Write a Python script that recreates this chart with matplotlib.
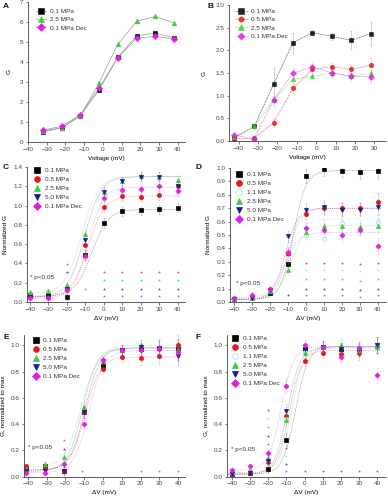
import matplotlib.pyplot as plt
import numpy as np

plt.rcParams['font.family'] = ['Liberation Sans', 'DejaVu Sans']
plt.rcParams['font.size'] = 4.6
plt.rcParams['axes.linewidth'] = 0.6
plt.rcParams['axes.edgecolor'] = '#444444'
plt.rcParams['xtick.color'] = '#444444'
plt.rcParams['ytick.color'] = '#444444'
plt.rcParams['text.color'] = '#333333'

BLACK = '#000000'
RED = '#e8161c'
CYAN = '#8fdede'
GREEN = '#3ccf3c'
BLUE = '#1c1c8c'
MAG = '#e020e0'
COLS = {'k': BLACK, 'r': RED, 'c': CYAN, 'g': GREEN, 'b': BLUE, 'm': MAG}
MARKS = {'k': 's', 'r': 'o', 'c': 'o', 'g': '^', 'b': 'v', 'm': 'D'}
NAMES = {'k': '0.1 MPa', 'r': '0.5 MPa', 'c': '1.1 MPa', 'g': '2.5 MPa',
         'b': '5.0 MPa', 'm': '0.1 MPa Dec'}

# ---- panel A: conductance vs voltage
a_v = [-32, -22, -12, -2, 8, 18, 28, 38]
a_k = [0.50, 0.70, 1.32, 2.60, 4.24, 5.31, 5.44, 5.21]
a_g = [0.55, 0.72, 1.30, 2.96, 4.89, 6.03, 6.28, 5.95]
a_m = [0.59, 0.79, 1.37, 2.70, 4.22, 5.18, 5.29, 5.14]

# ---- panel B
b_v = [-42.5, -32, -22, -12, -2, 8, 18, 28]
b_k = [0.06, 0.32, 1.25, 2.17, 2.39, 2.31, 2.22, 2.37]
b_r = [0.05, 0.06, 0.40, 1.16, 1.58, 1.64, 1.58, 1.67]
b_g = [0.08, 0.32, 0.90, 1.36, 1.43, 1.50, 1.43, 1.49]
b_m = [0.13, 0.05, 0.91, 1.49, 1.64, 1.50, 1.43, 1.42]
b_k_err = [0.05, 0.05, 0.35, 0.22, 0.06, 0.08, 0.20, 0.25]
b_r_err = [0.03, 0.03, 0.10, 0.10, 0.08, 0.08, 0.08, 0.15]
b_g_err = [0.03, 0.04, 0.10, 0.08, 0.06, 0.06, 0.06, 0.08]
b_m_err = [0.04, 0.03, 0.15, 0.10, 0.08, 0.08, 0.08, 0.15]

# ---- panel C: normalized G
c_v = [-40, -30, -20, -10, 0, 10, 20, 30, 40]
c_k = [0.07, 0.07, 0.05, 0.49, 0.82, 0.94, 0.95, 0.96, 0.98]
c_r = [0.06, 0.05, 0.13, 0.59, 0.99, 1.10, 1.09, 1.11, 1.20]
c_g = [0.10, 0.11, 0.18, 0.71, 1.14, 1.25, 1.31, 1.30, 1.27]
c_b = [0.05, 0.05, 0.13, 0.64, 1.14, 1.25, 1.30, 1.30, 1.20]
c_m = [0.04, 0.04, 0.12, 0.48, 1.08, 1.16, 1.17, 1.20, 1.15]
c_err = [0.02, 0.02, 0.03, 0.05, 0.05, 0.05, 0.05, 0.05, 0.05]
c_fit = {'k': [0.06, 0.96, -6.5, 4.5], 'r': [0.05, 1.10, -8.5, 4.5],
         'g': [0.09, 1.30, -12.0, 4.5], 'b': [0.05, 1.30, -10.5, 4.5],
         'm': [0.04, 1.19, -8.5, 4.0]}
c_star_x = [0, 10, 20, 30, 40, 0, 10, 20, 30, 40, 0, 10, 20, 30, 40,
            0, 10, 20, 30, 40, -20, -20, -10]
c_star_y = [0.31, 0.31, 0.31, 0.31, 0.31, 0.23, 0.23, 0.23, 0.23, 0.23,
            0.14, 0.14, 0.14, 0.14, 0.14, 0.06, 0.06, 0.06, 0.06, 0.06,
            0.39, 0.31, 0.14]
c_star_c = ['r', 'r', 'r', 'r', 'r', 'g', 'g', 'g', 'g', 'g',
            'b', 'b', 'b', 'b', 'b', 'm', 'm', 'm', 'm', 'm', 'm', 'b', 'g']

# ---- panel D
d_v = [-40, -30, -20, -10, 0, 10, 20, 30, 40]
d_k = [0.02, 0.03, 0.07, 0.28, 0.94, 0.99, 0.98, 0.97, 0.98]
d_r = [0.02, 0.04, 0.09, 0.36, 0.66, 0.70, 0.70, 0.70, 0.75]
d_c = [0.02, 0.03, 0.08, 0.33, 0.50, 0.47, 0.59, 0.55, 0.60]
d_g = [0.02, 0.03, 0.08, 0.24, 0.52, 0.57, 0.57, 0.56, 0.57]
d_b = [0.02, 0.03, 0.09, 0.49, 0.69, 0.71, 0.69, 0.69, 0.71]
d_m = [0.03, 0.05, 0.10, 0.37, 0.55, 0.54, 0.50, 0.54, 0.42]
d_err = [0.01, 0.01, 0.02, 0.04, 0.05, 0.05, 0.05, 0.05, 0.06]
d_fit = {'k': [0.02, 0.98, -7.0, 3.5], 'r': [0.02, 0.70, -10.0, 3.5],
         'c': [0.02, 0.62, -10.5, 4.0], 'g': [0.02, 0.57, -8.5, 4.0],
         'b': [0.02, 0.70, -11.5, 3.5], 'm': [0.03, 0.52, -12.0, 4.0]}
d_star_x = [0, 10, 20, 30, 40, 0, 10, 20, 30, 40, 0, 10, 20, 30, 40,
            0, 10, 20, 30, 40, 0, 10, 20, 30, 40, -10]
d_star_y = [0.29, 0.29, 0.29, 0.28, 0.29, 0.24, 0.24, 0.24, 0.23, 0.24,
            0.17, 0.17, 0.17, 0.16, 0.17, 0.10, 0.10, 0.10, 0.09, 0.10,
            0.05, 0.05, 0.05, 0.04, 0.05, 0.05]
d_star_c = ['r', 'r', 'r', 'r', 'r', 'c', 'c', 'c', 'c', 'c',
            'g', 'g', 'g', 'g', 'g', 'b', 'b', 'b', 'b', 'b',
            'm', 'm', 'm', 'm', 'm', 'b']

# ---- panel E: G normalized to max
e_v = [-41, -31, -21, -10, 0, 10, 20, 30, 40]
e_k = [0.06, 0.08, 0.04, 0.49, 0.84, 0.96, 0.97, 0.98, 0.97]
e_r = [0.08, 0.07, 0.04, 0.49, 0.82, 0.91, 0.90, 0.92, 1.00]
e_g = [0.06, 0.10, 0.15, 0.53, 0.88, 0.96, 1.00, 0.99, 0.97]
e_b = [0.04, 0.04, 0.04, 0.49, 0.88, 0.96, 0.99, 0.97, 0.92]
e_m = [0.03, 0.03, 0.10, 0.40, 0.89, 0.96, 0.96, 0.97, 0.95]
e_err = [0.01, 0.02, 0.03, 0.04, 0.03, 0.04, 0.05, 0.06, 0.08]
e_fit = {'k': [0.05, 0.98, -9.5, 4.0], 'r': [0.05, 0.91, -9.5, 4.0],
         'g': [0.07, 1.00, -11.5, 4.5], 'b': [0.04, 0.98, -11.0, 4.0],
         'm': [0.03, 0.96, -7.5, 4.0]}
e_star_x = [-21, -21, -11, 20, 30, 40]
e_star_y = [0.28, 0.21, 0.04, 0.04, 0.04, 0.04]
e_star_c = ['m', 'b', 'm', 'm', 'm', 'm']

# ---- panel F
f_v = [-40, -30, -20, -10, 0, 10, 20, 30, 40]
f_k = [0.02, 0.03, 0.06, 0.28, 0.97, 0.99, 0.97, 0.97, 1.00]
f_r = [0.02, 0.03, 0.11, 0.46, 0.88, 0.94, 0.93, 0.94, 1.00]
f_c = [0.03, 0.04, 0.13, 0.44, 0.95, 0.99, 0.99, 0.98, 1.00]
f_g = [0.05, 0.05, 0.14, 0.43, 0.94, 0.99, 1.00, 0.96, 0.99]
f_b = [0.02, 0.03, 0.12, 0.50, 0.97, 0.99, 0.97, 0.97, 1.00]
f_m = [0.05, 0.08, 0.18, 0.69, 1.00, 0.99, 0.91, 0.98, 0.77]
f_err = [0.01, 0.01, 0.03, 0.05, 0.04, 0.04, 0.05, 0.05, 0.06]
f_fit = {'k': [0.02, 0.99, -5.0, 3.5], 'r': [0.02, 0.96, -8.5, 3.5],
         'c': [0.03, 0.99, -8.0, 3.5], 'g': [0.03, 0.99, -7.0, 3.5],
         'b': [0.02, 0.98, -9.5, 3.5], 'm': [0.05, 0.99, -13.0, 3.5]}
f_star_x = [-20, -20, -20, -20, -20, -10, -10, -10, -10, 0, 10, 20, 30, 40]
f_star_y = [0.51, 0.45, 0.38, 0.31, 0.25, 0.22, 0.16, 0.10, 0.04,
            0.04, 0.04, 0.04, 0.04, 0.04]
f_star_c = ['r', 'c', 'g', 'b', 'm', 'r', 'c', 'b', 'm', 'r', 'r', 'r', 'r', 'r']


def boltz(v, a1, a2, v50, k):
    return a2 + (a1 - a2) / (1 + np.exp((v - v50) / k))


def style(ax, xlim, ylim, xt, yt, yfmt):
    ax.set_xlim(*xlim)
    ax.set_ylim(*ylim)
    ax.set_xticks(xt)
    ax.set_yticks(yt)
    ax.set_yticklabels([yfmt.format(t) for t in yt])
    ax.spines['top'].set_visible(False)
    ax.spines['right'].set_visible(False)
    ax.tick_params(direction='out', length=1.8, width=0.5, pad=1.5)
    ax.patch.set_alpha(0)


def sig_panel(ax, v, series, err, fits, sx, sy, sc, ptxt, legpos):
    vv = np.linspace(-42, 42, 300)
    for key, vals in series:
        p = fits[key]
        ax.plot(vv, boltz(vv, *p), color=COLS[key], lw=0.45, ls=(0, (2, 1.5)), alpha=0.45)
    handles = []
    for key, vals in series:
        ax.errorbar(v, vals, yerr=err, fmt='none', ecolor=COLS[key], elinewidth=0.4,
                    capsize=0.8, capthick=0.4, alpha=0.3)
        fc = 'white' if key == 'c' else COLS[key]
        ms = 2.6 if MARKS[key] == 'D' else 3.0
        h, = ax.plot(v, vals, MARKS[key], color=COLS[key], mfc=fc, mec=COLS[key],
                     ms=ms, mew=0.5, ls='none', label=NAMES[key])
        handles.append(h)
    for x, y, c in zip(sx, sy, sc):
        ax.plot(x, y, marker='*', color=COLS[c], ms=2.3, mew=0, ls='none', alpha=0.8)
    ax.text(ptxt[0], ptxt[1], '* p<0.05', fontsize=4.6, va='center')
    ax.legend(handles=handles, loc='upper left', bbox_to_anchor=legpos,
              bbox_transform=fig.transFigure, frameon=False, fontsize=4.6,
              handlelength=0.8, handletextpad=0.8, labelspacing=0.55,
              borderpad=0, borderaxespad=0, markerscale=1.4)


fig = plt.figure(figsize=(3.88, 5.0), dpi=100)

# A
ax = fig.add_axes([0.0722, 0.716, 0.405, 0.280])
for key, vals in [('k', a_k), ('g', a_g), ('m', a_m)]:
    ms = 3.2 if MARKS[key] == 'D' else 3.4
    ax.plot(a_v, vals, marker=MARKS[key], color='#999999', mfc=COLS[key], mec=COLS[key],
            ms=ms, mew=0.4, lw=0.5, label=NAMES[key])
style(ax, (-40, 44), (0, 7), range(-40, 41, 10), range(0, 8), '{:d}')
ax.set_xlabel('Voltage (mV)', labelpad=3)
ax.set_ylabel('G', labelpad=6)
ax.legend(loc='upper left', bbox_to_anchor=(0.093, 0.983), bbox_transform=fig.transFigure,
          frameon=False, fontsize=4.6, handlelength=1.6, handletextpad=0.6,
          labelspacing=0.45, borderpad=0, borderaxespad=0, markerscale=1.2)

# B
ax = fig.add_axes([0.590, 0.718, 0.405, 0.272])
for key, vals, er in [('k', b_k, b_k_err), ('r', b_r, b_r_err), ('g', b_g, b_g_err),
                      ('m', b_m, b_m_err)]:
    ax.errorbar(b_v, vals, yerr=er, fmt='none', ecolor=COLS[key], elinewidth=0.4,
                capsize=0.8, capthick=0.4, alpha=0.3)
    ms = 3.0 if MARKS[key] == 'D' else 3.2
    ax.plot(b_v, vals, marker=MARKS[key], color=COLS[key], mfc=COLS[key], ms=ms,
            mew=0.4, lw=0.45, ls=(0, (1.5, 1.2)), alpha=0.85, label=NAMES[key])
style(ax, (-45, 36), (0, 3), range(-40, 31, 10), [0, 0.5, 1.0, 1.5, 2.0, 2.5, 3.0], '{:.1f}')
ax.set_xlabel('Voltage (mV)', labelpad=3)
ax.set_ylabel('G', labelpad=6)
ax.legend(loc='upper left', bbox_to_anchor=(0.605, 0.983), bbox_transform=fig.transFigure,
          frameon=False, fontsize=4.6, handlelength=2.0, handletextpad=0.6,
          labelspacing=0.45, borderpad=0, borderaxespad=0, markerscale=1.2)

# C
ax = fig.add_axes([0.0696, 0.396, 0.407, 0.270])
sig_panel(ax, c_v, [('k', c_k), ('r', c_r), ('g', c_g), ('b', c_b), ('m', c_m)], c_err,
          c_fit, c_star_x, c_star_y, c_star_c, (-40, 0.25), (0.09, 0.665))
style(ax, (-41.6, 44), (0, 1.4), range(-40, 41, 10),
      [0, 0.2, 0.4, 0.6, 0.8, 1.0, 1.2, 1.4], '{:.1f}')
ax.set_xlabel('\u0394V (mV)', labelpad=3)
ax.set_ylabel('Normalized G', labelpad=4)

# D
ax = fig.add_axes([0.593, 0.396, 0.402, 0.268])
sig_panel(ax, d_v, [('k', d_k), ('r', d_r), ('c', d_c), ('g', d_g), ('b', d_b), ('m', d_m)],
          d_err, d_fit, d_star_x, d_star_y, d_star_c, (-39, 0.14), (0.61, 0.656))
style(ax, (-42.2, 44.6), (0, 1.0), range(-40, 41, 10),
      [0, 0.1, 0.2, 0.3, 0.4, 0.5, 0.6, 0.7, 0.8, 0.9, 1.0], '{:.1f}')
ax.set_xlabel('\u0394V (mV)', labelpad=3)
ax.set_ylabel('Normalized G', labelpad=4)

# E
ax = fig.add_axes([0.0619, 0.0466, 0.415, 0.284])
sig_panel(ax, e_v, [('k', e_k), ('r', e_r), ('g', e_g), ('b', e_b), ('m', e_m)], e_err,
          e_fit, e_star_x, e_star_y, e_star_c, (-40, 0.22), (0.085, 0.325))
style(ax, (-42.1, 43.7), (0, 1.08), range(-40, 41, 10),
      [0, 0.2, 0.4, 0.6, 0.8, 1.0], '{:.1f}')
ax.set_xlabel('\u0394V (mV)', labelpad=3)
ax.set_ylabel('G, normalized to max', labelpad=4)

# F
ax = fig.add_axes([0.585, 0.0466, 0.410, 0.284])
sig_panel(ax, f_v, [('k', f_k), ('r', f_r), ('c', f_c), ('g', f_g), ('b', f_b), ('m', f_m)],
          f_err, f_fit, f_star_x, f_star_y, f_star_c, (-40.5, 0.21), (0.6, 0.329))
style(ax, (-42.8, 45), (0, 1.08), range(-40, 41, 10),
      [0, 0.2, 0.4, 0.6, 0.8, 1.0], '{:.1f}')
ax.set_xlabel('\u0394V (mV)', labelpad=3)
ax.set_ylabel('G, normalized to max', labelpad=4)

for lab, x, y in [('A', 0.008, 0.988), ('B', 0.535, 0.988), ('C', 0.008, 0.665),
                  ('D', 0.505, 0.665), ('E', 0.008, 0.325), ('F', 0.505, 0.325)]:
    fig.text(x, y, lab, fontsize=6, fontweight='bold', color='#111111', va='center')

fig.savefig('out.png', dpi=100)
